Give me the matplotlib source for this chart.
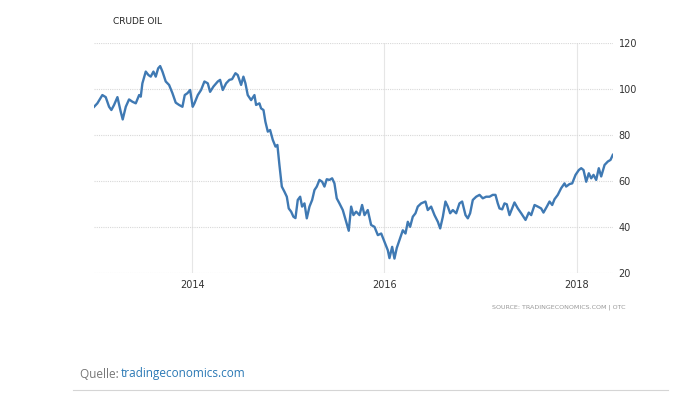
import matplotlib
matplotlib.use("Agg")
import matplotlib.pyplot as plt
import numpy as np

# decimal year / price (USD per barrel)
years = [
    2012.976, 2013.010, 2013.062, 2013.097, 2013.132, 2013.156, 2013.184, 2013.219,
    2013.253, 2013.274, 2013.306, 2013.340, 2013.375, 2013.410, 2013.445, 2013.462,
    2013.479, 2013.514, 2013.542, 2013.566, 2013.594, 2013.618, 2013.643, 2013.664,
    2013.688, 2013.722, 2013.757, 2013.792, 2013.826, 2013.861, 2013.896, 2013.920,
    2013.948, 2013.976, 2014.003, 2014.021, 2014.056, 2014.090, 2014.125, 2014.160,
    2014.184, 2014.219, 2014.264, 2014.288, 2014.316, 2014.351, 2014.385, 2014.413,
    2014.448, 2014.472, 2014.507, 2014.531, 2014.552, 2014.576, 2014.611, 2014.646,
    2014.663, 2014.698, 2014.715, 2014.740, 2014.760, 2014.785, 2014.809, 2014.837,
    2014.865, 2014.885, 2014.906, 2014.931, 2014.958, 2014.983, 2015.003, 2015.028,
    2015.052, 2015.073, 2015.097, 2015.122, 2015.142, 2015.167, 2015.191, 2015.219,
    2015.247, 2015.271, 2015.295, 2015.323, 2015.351, 2015.375, 2015.399, 2015.427,
    2015.455, 2015.479, 2015.503, 2015.531, 2015.566, 2015.601, 2015.628, 2015.653,
    2015.677, 2015.705, 2015.740, 2015.767, 2015.792, 2015.826, 2015.861, 2015.896,
    2015.931, 2015.966, 2016.000, 2016.035, 2016.052, 2016.080, 2016.104, 2016.128,
    2016.156, 2016.191, 2016.219, 2016.243, 2016.267, 2016.295, 2016.323, 2016.347,
    2016.382, 2016.427, 2016.451, 2016.486, 2016.521, 2016.556, 2016.580, 2016.608,
    2016.635, 2016.660, 2016.684, 2016.712, 2016.747, 2016.781, 2016.809, 2016.844,
    2016.868, 2016.892, 2016.920, 2016.955, 2016.990, 2017.024, 2017.059, 2017.094,
    2017.128, 2017.156, 2017.180, 2017.198, 2017.226, 2017.250, 2017.274, 2017.302,
    2017.337, 2017.354, 2017.389, 2017.424, 2017.469, 2017.503, 2017.528, 2017.563,
    2017.597, 2017.632, 2017.656, 2017.691, 2017.719, 2017.747, 2017.771, 2017.805,
    2017.840, 2017.875, 2017.892, 2017.927, 2017.955, 2017.990, 2018.024, 2018.049,
    2018.073, 2018.101, 2018.128, 2018.153, 2018.177, 2018.205, 2018.232, 2018.257,
    2018.292, 2018.326, 2018.354, 2018.378,
]
price = [
    92.4, 93.9, 97.5, 96.6, 92.4, 91.0, 93.2, 96.6,
    90.3, 86.9, 92.4, 95.6, 94.6, 93.9, 97.5, 96.8,
    102.6, 107.7, 106.2, 105.5, 107.7, 105.5, 109.1, 110.1,
    107.7, 103.4, 101.9, 98.3, 94.2, 93.2, 92.4, 97.5,
    98.3, 99.7, 92.4, 93.9, 97.5, 99.7, 103.4, 102.6,
    98.9, 101.2, 103.4, 104.1, 99.7, 102.6, 104.1, 104.4,
    107.0, 106.2, 101.9, 105.5, 102.6, 97.5, 95.3, 97.5,
    93.2, 93.9, 91.7, 91.0, 85.9, 81.6, 82.3, 78.0,
    75.1, 75.8, 67.1, 57.7, 55.5, 53.3, 48.2, 46.8,
    44.6, 44.0, 51.9, 53.3, 49.0, 50.4, 43.9, 49.0,
    51.9, 56.2, 57.7, 60.6, 59.8, 57.7, 60.9, 60.6,
    61.3, 59.1, 52.6, 50.4, 47.5, 42.4, 38.5, 49.0,
    45.3, 46.8, 45.3, 49.7, 45.3, 47.5, 41.0, 40.2,
    36.6, 37.3, 33.7, 30.0, 26.6, 31.5, 26.4, 31.0,
    34.4, 38.7, 37.3, 42.4, 40.2, 44.6, 46.1, 49.0,
    50.4, 51.2, 47.5, 49.0, 45.3, 42.4, 39.5, 44.6,
    51.2, 49.0, 46.1, 47.5, 46.1, 50.4, 51.2, 45.3,
    43.9, 46.1, 51.9, 53.3, 54.1, 52.6, 53.3, 53.3,
    54.1, 54.1, 50.4, 48.2, 47.8, 50.4, 50.0, 45.3,
    49.0, 50.8, 48.2, 46.1, 43.2, 46.4, 45.3, 49.7,
    49.0, 48.2, 46.4, 49.0, 51.2, 49.7, 52.2, 54.1,
    57.0, 59.1, 57.7, 58.8, 59.1, 62.8, 64.9, 65.7,
    64.9, 59.8, 63.5, 61.3, 62.8, 60.6, 65.7, 62.1,
    67.1, 68.6, 69.3, 71.5,
]

x_ticks = [2014, 2016, 2018]
y_ticks = [20, 40, 60, 80, 100, 120]

fig = plt.figure(figsize=(6.88, 3.96), dpi=100)
ax = fig.add_axes([94 / 688, 1 - 273.3 / 396, (613 - 94) / 688, (273.3 - 43.3) / 396])

ax.plot(years, price, color="#3f79b3", lw=1.7, solid_joinstyle="round")

ax.set_xlim(2012.975, 2018.38)
ax.set_ylim(20, 120)
ax.set_xticks(x_ticks)
ax.set_xticklabels([str(t) for t in x_ticks])
ax.set_yticks(y_ticks)
ax.yaxis.tick_right()
ax.tick_params(length=0, labelsize=7, colors="#333333")
ax.tick_params(axis="y", pad=4)
ax.tick_params(axis="x", pad=5)
for s in ax.spines.values():
    s.set_visible(False)

ax.grid(axis="y", color="#d8d8d8", linestyle=(0, (1, 1)), lw=0.8)
ax.grid(axis="x", color="#e6e6e6", linestyle="-", lw=0.8)
ax.set_axisbelow(True)

fig.text(113 / 688, 1 - 22 / 396, "CRUDE OIL", fontsize=6.5, color="#222222",
         ha="left", va="center")
fig.text(626 / 688, 1 - 307 / 396, "SOURCE: TRADINGECONOMICS.COM | OTC", fontsize=4.6,
         color="#999999", ha="right", va="center")

fig.text(80 / 688, 1 - 374 / 396, "Quelle: ", fontsize=8.5, color="#777777",
         ha="left", va="center", family="Open Sans")
fig.text(121 / 688, 1 - 374 / 396, "tradingeconomics.com", fontsize=8.5, color="#2b79b5",
         ha="left", va="center", family="Open Sans")
fig.add_artist(plt.Line2D([73 / 688, 668 / 688], [1 - 390 / 396] * 2,
                          color="#d5d5d5", lw=0.8))

fig.savefig("out.png", dpi=100)
